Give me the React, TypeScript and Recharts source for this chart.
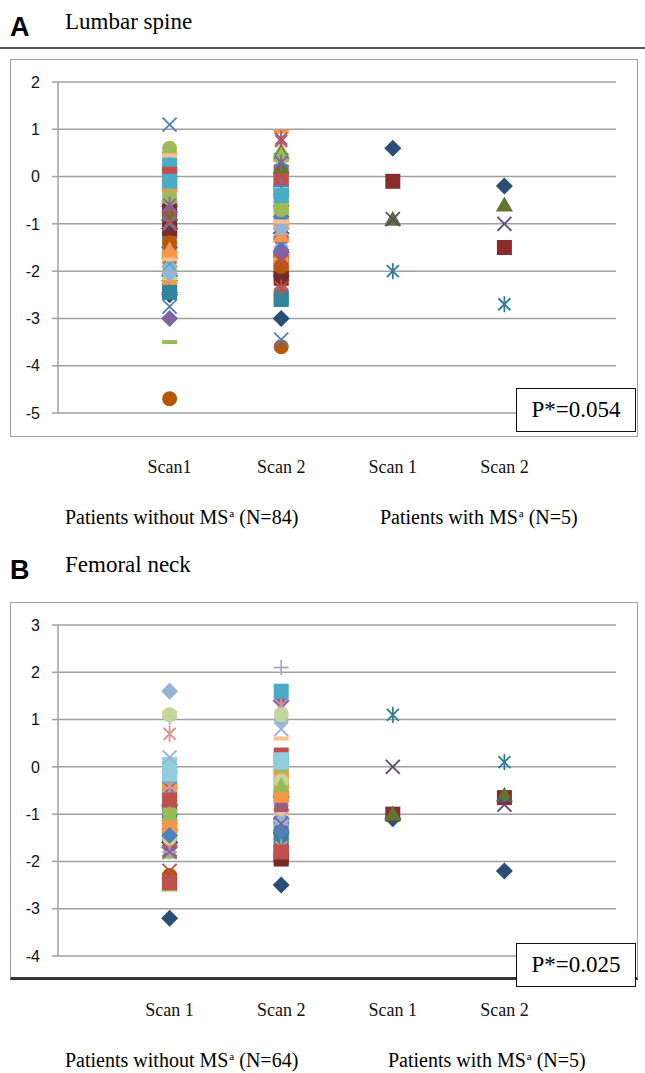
import React from 'react';
import { ScatterChart, Scatter, XAxis, YAxis, CartesianGrid } from 'recharts';

// x-axis labels (category positions 1..4)
const lumbarScans = ['Scan1', 'Scan 2', 'Scan 1', 'Scan 2'];
const femoralScans = ['Scan 1', 'Scan 2', 'Scan 1', 'Scan 2'];
const lumbarTicks = [-5, -4, -3, -2, -1, 0, 1, 2];
const femoralTicks = [-4, -3, -2, -1, 0, 1, 2, 3];

// patients without MS, lumbar spine: [scan 1, scan 2]
const lumbarNoMS: [number, number][] = [
  [-0.9, -1.1], [0.1, 0.1], [-0.4, 0.55], [-0.6, -1.5], [-0.3, -0.5], [-1.7, -1.9],
  [0.35, -0.2], [-3.5, -0.9], [0.5, 0.95], [-1.1, -3.0], [-1.2, -2.0], [-0.5, 0.5],
  [-3.0, -1.6], [-2.4, -2.6], [-4.7, -3.6], [-1.0, -2.3], [1.1, 0.35], [0.6, -0.7],
  [-1.5, -1.2], [-0.65, 0.8], [-1.0, -1.8], [0.25, -0.3], [-0.8, -0.4], [-1.4, -1.0],
  [-0.7, -0.1], [-1.9, -1.3], [-1.3, -0.6], [-0.2, -0.25], [-1.6, 0.2], [-0.1, -0.8],
  [-2.2, -1.7], [-1.15, -2.05], [-0.45, -1.55], [-2.3, -1.4], [-0.05, -0.35], [-1.8, -1.85],
  [-1.3, 0.05], [-0.85, -0.75], [-1.55, -1.0], [-2.1, -1.2], [-0.7, -1.7], [-1.6, -0.5],
  [-0.75, -1.65], [-0.15, -0.3], [-1.75, -2.0], [-0.95, 0.75], [-2.75, -3.45], [-2.0, -0.65],
  [-1.45, -1.15], [-0.6, -1.5], [-1.05, -2.25], [-0.25, -0.1], [-1.9, -0.45], [0.45, -1.1],
  [-1.25, -0.2], [-0.55, -0.95], [-2.15, -0.7], [-0.35, -0.15], [-1.65, -1.35], [-2.35, -1.75],
  [-2.45, -0.85], [0.05, -0.05], [-1.35, 0.45], [-0.6, -1.45], [-1.85, -0.4], [-1.65, -1.95],
  [-0.9, -0.2], [-1.2, -0.55], [-0.3, -1.05], [-2.5, -2.1], [-1.1, -2.15], [-0.8, 0.2],
  [-1.5, -1.6], [-2.45, -2.55], [-1.4, -1.9], [-0.65, -2.35], [-1.0, -1.4], [-0.45, -0.7],
  [-1.55, -1.25], [-0.6, 0.3], [-0.95, -1.8], [-0.1, -0.4], [-2.05, -1.1], [-1.75, -0.95],
];
// patients with MS, lumbar spine
const lumbarMS1 = [0.6, -0.1, -0.9, -0.9, -2.0];
const lumbarMS2 = [-0.2, -1.5, -0.6, -1.0, -2.7];

// patients without MS, femoral neck: [scan 1, scan 2]
const femoralNoMS: [number, number][] = [
  [-1.0, -1.1], [-0.5, 0.25], [-2.5, -1.6], [-0.3, -0.6], [-1.3, -1.4], [-1.6, -0.4],
  [-0.9, -1.2], [-1.9, -0.3], [-0.4, -0.05], [-3.2, -2.5], [-2.4, -1.9], [-1.2, -0.5],
  [-0.8, 1.4], [-1.5, -1.3], [-2.3, -0.9], [-1.1, -1.7], [-0.6, -0.9], [-1.4, -0.2],
  [0.0, -1.4], [-1.7, -0.7], [-2.2, -0.8], [-0.1, 0.1], [1.6, 1.0], [1.15, 0.6],
  [0.7, 1.3], [1.05, 2.1], [1.1, 1.1], [0.05, 0.0], [0.2, 0.8], [-0.45, -0.35],
  [-1.6, -1.1], [-2.45, -1.85], [-1.25, -0.6], [-1.45, -0.95], [-0.75, -1.3], [-1.65, -0.45],
  [-1.35, -1.6], [-0.55, -0.1], [-0.35, -0.15], [-1.6, -1.4], [-1.05, -1.95], [-0.7, -1.55],
  [-1.7, -0.65], [-0.95, -1.5], [-1.15, -0.55], [-0.85, -0.85], [-1.35, -1.25], [-0.95, -0.35],
  [-1.55, -0.45], [-0.45, -0.75], [-1.75, -1.05], [-0.2, 1.6], [-1.2, -1.15], [-0.6, -1.0],
  [-0.4, -1.7], [-1.8, -0.25], [-1.5, -0.3], [-0.15, 0.15], [-0.65, -1.1], [-1.25, -0.6],
  [-1.45, -1.35], [-0.7, -1.8], [-1.0, -0.4], [-1.8, -1.2],
];
// patients with MS, femoral neck
const femoralMS1 = [-1.1, -1.0, -1.0, 0.0, 1.1];
const femoralMS2 = [-2.2, -0.65, -0.6, -0.8, 0.1];

type Shape = 'diamond' | 'square' | 'triangle' | 'x' | 'star' | 'circle' | 'plus' | 'dash';

// Excel-like marker cycle
const STYLES: [string, Shape][] = [
  ['#4F81BD', 'diamond'], ['#C0504D', 'square'], ['#9BBB59', 'triangle'], ['#8064A2', 'x'],
  ['#4BACC6', 'star'], ['#F79646', 'circle'], ['#4F81BD', 'plus'], ['#9BBB59', 'dash'],
  ['#F79646', 'dash'], ['#2C4D75', 'diamond'], ['#772C2A', 'square'], ['#5F7530', 'triangle'],
  ['#8064A2', 'diamond'], ['#31859C', 'square'], ['#B65708', 'circle'], ['#C0504D', 'star'],
  ['#4F81BD', 'x'], ['#9BBB59', 'circle'], ['#F79646', 'triangle'], ['#8064A2', 'star'],
  ['#C0504D', 'x'], ['#4BACC6', 'square'], ['#95B3D7', 'diamond'], ['#FAC090', 'dash'],
  ['#D99694', 'star'], ['#B3A2C7', 'plus'], ['#C3D69B', 'circle'], ['#92CDDC', 'square'],
  ['#95B3D7', 'x'], ['#F79646', 'square'],
];
const MS_STYLES: [string, Shape][] = [
  ['#2C4D75', 'diamond'], ['#8B2B2A', 'square'], ['#5F7530', 'triangle'], ['#5B4679', 'x'], ['#2E7D8F', 'star'],
];

const Marker = ({ cx, cy, color, shape }: any) => {
  if (cx == null || cy == null) return null;
  const sw = 1.8;
  switch (shape) {
    case 'diamond':
      return <polygon points={`${cx},${cy - 8.5} ${cx + 8.5},${cy} ${cx},${cy + 8.5} ${cx - 8.5},${cy}`} fill={color} />;
    case 'square':
      return <rect x={cx - 7.5} y={cy - 7.5} width={15} height={15} fill={color} />;
    case 'triangle':
      return <polygon points={`${cx},${cy - 8.5} ${cx + 8.5},${cy + 6.5} ${cx - 8.5},${cy + 6.5}`} fill={color} />;
    case 'circle':
      return <circle cx={cx} cy={cy} r={7.5} fill={color} />;
    case 'dash':
      return <rect x={cx - 7.5} y={cy - 2} width={15} height={4} fill={color} />;
    case 'plus':
      return (
        <g stroke={color} strokeWidth={sw}>
          <line x1={cx - 7.5} y1={cy} x2={cx + 7.5} y2={cy} />
          <line x1={cx} y1={cy - 7.5} x2={cx} y2={cy + 7.5} />
        </g>
      );
    case 'x':
      return (
        <g stroke={color} strokeWidth={sw}>
          <line x1={cx - 7} y1={cy - 7} x2={cx + 7} y2={cy + 7} />
          <line x1={cx - 7} y1={cy + 7} x2={cx + 7} y2={cy - 7} />
        </g>
      );
    case 'star':
      return (
        <g stroke={color} strokeWidth={sw}>
          <line x1={cx - 6} y1={cy - 6} x2={cx + 6} y2={cy + 6} />
          <line x1={cx - 6} y1={cy + 6} x2={cx + 6} y2={cy - 6} />
          <line x1={cx} y1={cy - 8} x2={cx} y2={cy + 8} />
        </g>
      );
    default:
      return null;
  }
};

const serif = '"Liberation Serif", "Times New Roman", serif';
const sans = '"Liberation Sans", Arial, sans-serif';

interface PanelProps {
  top: number;
  letter: string;
  title: string;
  ticks: number[];
  noMS: [number, number][];
  ms1: number[];
  ms2: number[];
  scans: string[];
  nWithout: number;
  pValue: string;
  pTop: number;
  withLeft: number;
  rule?: boolean;
  darkBottom?: boolean;
}

const Sup = () => (
  <span style={{ fontSize: 11, position: 'relative', top: -7, marginLeft: 1 }}>a</span>
);

const Panel = ({ top, letter, title, ticks, noMS, ms1, ms2, scans, nWithout, pValue, pTop, withLeft, rule, darkBottom }: PanelProps) => {
  const boxTop = top + 59;
  const boxH = 378;
  return (
    <>
      <div style={{ position: 'absolute', left: 10, top: top + 12, fontFamily: sans, fontWeight: 'bold', fontSize: 27, lineHeight: '30px' }}>{letter}</div>
      <div style={{ position: 'absolute', left: 65, top: top + 7, fontFamily: serif, fontSize: 23, lineHeight: '30px' }}>{title}</div>
      {rule && <div style={{ position: 'absolute', left: 0, top: top + 47, width: 645, height: 2, background: '#555' }} />}
      <div
        style={{
          position: 'absolute', left: 10, top: boxTop, width: 628, height: boxH, boxSizing: 'border-box',
          border: '1.5px solid #a0a0a0', borderBottom: darkBottom ? '3px solid #333' : '1.5px solid #a0a0a0',
        }}
      />
      <div style={{ position: 'absolute', left: 0, top: boxTop }}>
        <ScatterChart width={645} height={440} margin={{ top: 23, right: 29, bottom: 0, left: 0 }}>
          <CartesianGrid vertical={false} stroke="#a0a0a0" strokeWidth={1.5} />
          <XAxis
            type="number"
            dataKey="x"
            domain={[0, 5]}
            ticks={[1, 2, 3, 4]}
            height={86}
            axisLine={false}
            tickLine={false}
            tick={(p: any) => (
              <text x={p.x} y={p.y + 52} textAnchor="middle" fontFamily={serif} fontSize={18} fill="#111">
                {scans[p.payload.value - 1]}
              </text>
            )}
          />
          <YAxis
            type="number"
            dataKey="y"
            domain={[ticks[0], ticks[ticks.length - 1]]}
            ticks={ticks}
            interval={0}
            width={58}
            tickSize={6}
            tickMargin={12}
            axisLine={{ stroke: '#a0a0a0', strokeWidth: 1.5 }}
            tickLine={{ stroke: '#a0a0a0', strokeWidth: 1.5 }}
            tick={{ fontFamily: sans, fontSize: 16, fill: '#111' }}
          />
          {noMS.map((d, i) => {
            const [color, shape] = STYLES[i % STYLES.length];
            return (
              <Scatter
                key={'n' + i}
                data={[{ x: 1, y: d[0] }, { x: 2, y: d[1] }]}
                isAnimationActive={false}
                shape={(p: any) => <Marker cx={p.cx} cy={p.cy} color={color} shape={shape} />}
              />
            );
          })}
          {ms1.map((v, i) => {
            const [color, shape] = MS_STYLES[i];
            return (
              <Scatter
                key={'m' + i}
                data={[{ x: 3, y: v }, { x: 4, y: ms2[i] }]}
                isAnimationActive={false}
                shape={(p: any) => <Marker cx={p.cx} cy={p.cy} color={color} shape={shape} />}
              />
            );
          })}
        </ScatterChart>
      </div>
      <div
        style={{
          position: 'absolute', left: 516, top: top + pTop, width: 120, height: 44, boxSizing: 'border-box',
          border: '1.5px solid #111', background: '#fff', fontFamily: serif, fontSize: 23,
          display: 'flex', alignItems: 'center', justifyContent: 'center',
        }}
      >
        {pValue}
      </div>
      <div style={{ position: 'absolute', left: 65, top: boxTop + 446, fontFamily: serif, fontSize: 20, whiteSpace: 'nowrap', lineHeight: '24px' }}>
        Patients without MS<Sup /> (N={nWithout})
      </div>
      <div style={{ position: 'absolute', left: withLeft, top: boxTop + 446, fontFamily: serif, fontSize: 20, whiteSpace: 'nowrap', lineHeight: '24px' }}>
        Patients with MS<Sup /> (N=5)
      </div>
    </>
  );
};

export default function App() {
  return (
    <div style={{ position: 'relative', width: 645, height: 1073, background: '#fff', overflow: 'hidden' }}>
      <style>{'body{margin:0}'}</style>
      <Panel
        top={0}
        letter="A"
        title="Lumbar spine"
        ticks={lumbarTicks}
        noMS={lumbarNoMS}
        ms1={lumbarMS1}
        ms2={lumbarMS2}
        scans={lumbarScans}
        nWithout={84}
        pValue="P*=0.054"
        pTop={388}
        withLeft={380}
        rule
      />
      <Panel
        top={543}
        letter="B"
        title="Femoral neck"
        ticks={femoralTicks}
        noMS={femoralNoMS}
        ms1={femoralMS1}
        ms2={femoralMS2}
        scans={femoralScans}
        nWithout={64}
        pValue="P*=0.025"
        pTop={400}
        withLeft={388}
        darkBottom
      />
    </div>
  );
}
